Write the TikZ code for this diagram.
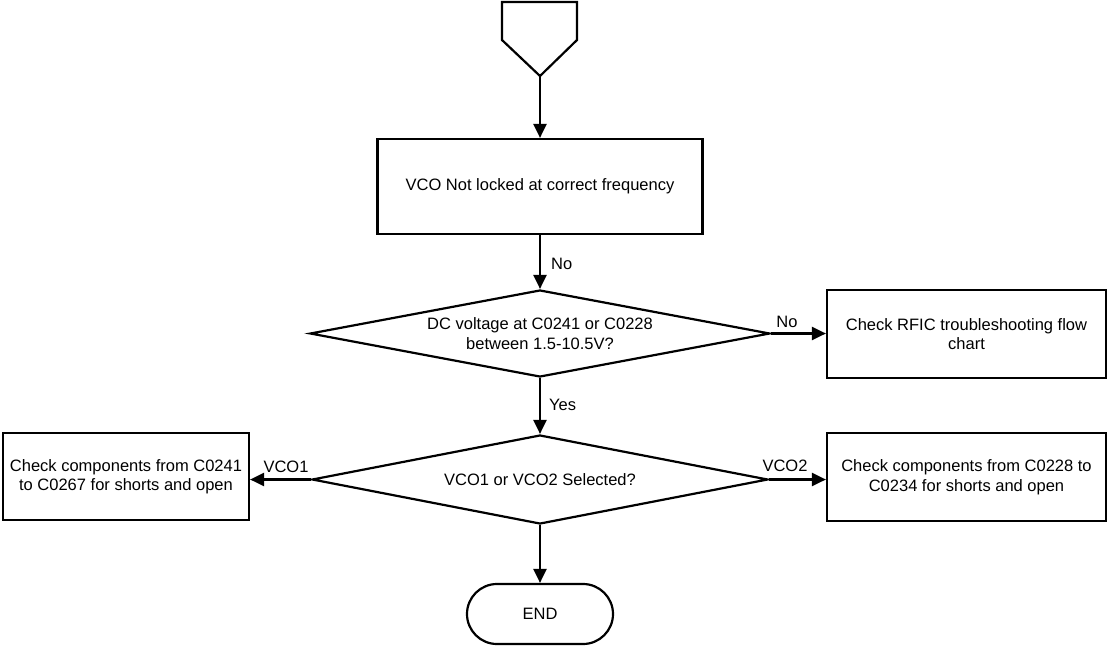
\documentclass[tikz,border=0pt]{standalone}
\usepackage{fontspec}
\setmainfont{Liberation Sans}
\usetikzlibrary{shapes.geometric,arrows.meta}
\begin{document}
\begin{tikzpicture}[x=1pt,y=-1pt,
  every node/.style={font=\fontsize{16.5}{19.5}\selectfont, inner sep=0pt},
  proc/.style={draw, line width=2.2pt, rectangle, align=center},
  decision/.style={draw, line width=2.2pt, diamond, aspect=5.3, align=center},
  conn/.style={line width=2.2pt, -{Triangle[length=14pt,width=13pt]}},
  lbl/.style={font=\fontsize{16.5}{19.5}\selectfont}]
\useasboundingbox (0,0) rectangle (1109,646);
% off-page connector
\draw[line width=2.2pt, line join=miter] (502,2) -- (577,2) -- (577,40) -- (540,76) -- (502,40) -- cycle;
\coordinate (opc) at (540,76);
\node[proc, minimum width=325pt, minimum height=95pt] (vco) at (540,186.5) {VCO Not locked at correct frequency};
\node[decision, minimum width=460pt, minimum height=87pt] (dc) at (540,333.5) {DC voltage at C0241 or C0228\\between 1.5-10.5V?};
\node[proc, minimum width=279pt, minimum height=88pt] (rfic) at (966.5,334) {Check RFIC troubleshooting flow\\chart};
\node[decision, minimum width=456pt, minimum height=89pt] (sel) at (540,479.5) {VCO1 or VCO2 Selected?};
\node[proc, minimum width=246pt, minimum height=87pt] (c1) at (126,476.5) {Check components from C0241\\to C0267 for shorts and open};
\node[proc, minimum width=279pt, minimum height=88pt] (c2) at (966.5,477) {Check components from C0228 to\\C0234 for shorts and open};
\node[draw, line width=2.2pt, rounded corners=30pt, minimum width=146pt, minimum height=60pt] (end) at (540,614) {END};
\draw[conn] (opc) -- (vco.north);
\draw[conn] (vco.south) -- (dc.north);
\draw[conn] (dc.east) -- (rfic.west |- dc.east);
\draw[conn] (dc.south) -- (sel.north);
\draw[conn] (sel.west) -- (c1.east |- sel.west);
\draw[conn] (sel.east) -- (c2.west |- sel.east);
\draw[conn] (sel.south) -- (end.north);
\node[lbl, anchor=west] (l1) at (551,264) {No};
\node[lbl] (l2) at (787,322) {No};
\node[lbl, anchor=west] (l3) at (549,405) {Yes};
\node[lbl] (l4) at (286,467) {VCO1};
\node[lbl] (l5) at (785,466) {VCO2};
\end{tikzpicture}
\end{document}
